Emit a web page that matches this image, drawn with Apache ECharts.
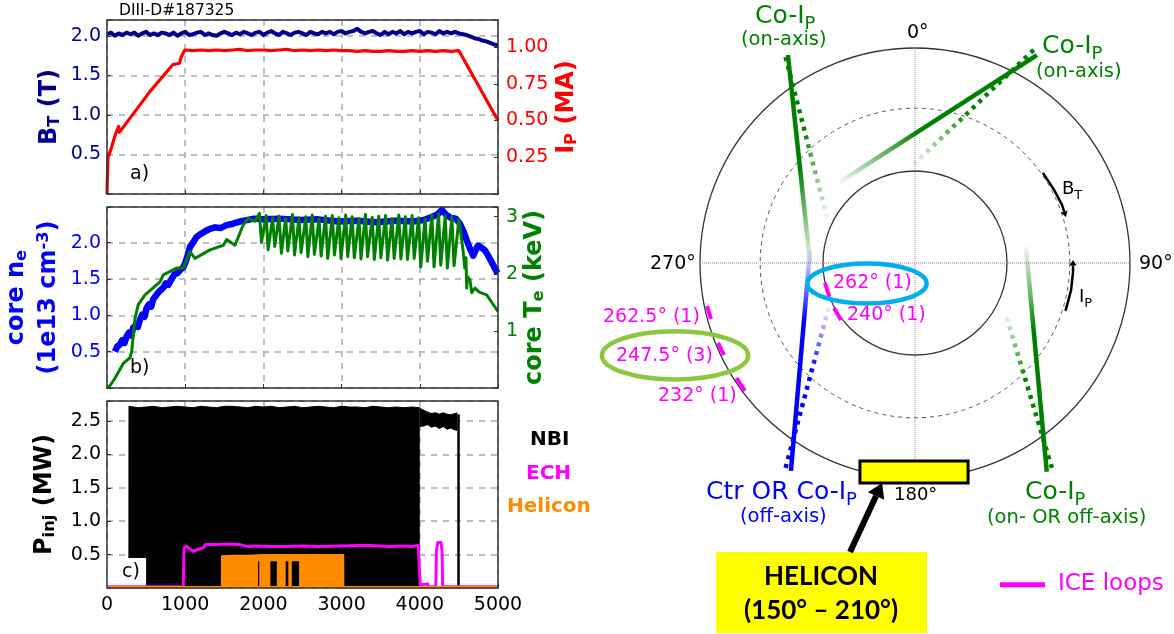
<!DOCTYPE html>
<html><head><meta charset="utf-8">
<script src="https://cdn.jsdelivr.net/npm/echarts@6/dist/echarts.min.js"></script>
<style>html,body{margin:0;padding:0;background:#fff}#c{width:1174px;height:634px}</style>
</head><body><div id="c"></div>
<script>
// ---------- panel a ----------
const btStep = 50;
const btValue = [2.02,2.04,2.00,2.03,2.01,2.04,2.02,2.04,2.00,2.03,2.05,2.01,2.03,2.01,2.04,2.03,2.01,2.04,2.00,2.03,
 2.05,2.01,2.02,2.04,2.05,2.01,2.03,2.01,2.00,2.03,2.05,2.03,2.01,2.04,2.02,2.05,2.03,2.01,2.04,2.05,
 2.01,2.04,2.06,2.03,2.01,2.05,2.03,2.01,2.04,2.05,2.03,2.01,2.05,2.03,2.02,2.05,2.03,2.05,2.02,2.05,
 2.06,2.03,2.05,2.06,2.09,2.05,2.03,2.05,2.06,2.03,2.01,2.05,2.02,2.05,2.03,2.06,2.02,2.05,2.03,2.05,
 2.06,2.02,2.05,2.04,2.02,2.06,2.03,2.05,2.03,2.05,2.03,2.02,2.01,1.99,1.97,1.96,1.94,1.93,1.91,1.89,1.88];
const ipTime = [0,8,14,48,110,149,159,216,553,841,928,947,995,1100,1200,1300,1400,1500,1600,1700,1800,1900,2000,2100,2200,2300,2400,2500,2600,2700,2800,2900,3000,3100,3200,3300,3400,3500,3600,3700,3800,3900,4000,4100,4200,4300,4400,4500,5000];
const ipValue = [0,.18,.25,.30,.41,.46,.42,.46,.70,.88,.89,.93,.98,.975,.98,.975,.98,.975,.98,.985,.975,.98,.98,.975,.98,.985,.975,.98,.975,.98,.975,.98,.975,.975,.97,.975,.97,.97,.975,.97,.97,.975,.97,.975,.97,.975,.97,.975,.50];
// ---------- panel b ----------
const neTime = [102,130,166,195,225,251,280,310,336,365,395,422,450,480,507,535,565,590,614,645,680,720,750,785,827,860,900,940,976,1000,1030,1061,1100,1147,1200,1260,1317,1380,1450,1530,1610,1700,1786,1880,1995,2200,2476,2700,2957,3200,3437,3700,3918,4050,4170,4230,4280,4340,4400,4460,4514,4560,4600,4640,4683,4715,4745,4790,4835,4880,4930,4983,5000];
const neValue = [.50,.57,.60,.66,.62,.71,.76,.72,.83,.86,.84,.94,1.01,.98,1.10,1.15,1.12,1.22,1.20,1.30,1.34,1.38,1.44,1.42,1.50,1.56,1.58,1.63,1.66,1.72,1.82,1.94,2.00,2.08,2.12,2.16,2.19,2.21,2.20,2.24,2.26,2.29,2.31,2.33,2.32,2.33,2.31,2.32,2.29,2.30,2.28,2.30,2.29,2.31,2.36,2.39,2.45,2.38,2.34,2.33,2.26,2.15,2.03,1.92,1.82,1.90,1.96,1.93,1.89,1.81,1.71,1.60,1.58];
const teRampTime = [17,102,208,294,316,358,400,486,678,720,890,976,1061,1125,1317,1488,1530,1637,1743,1807,1892,1950];
const teRampValue = [0,.17,.43,.53,.64,1.22,1.46,1.63,1.86,1.98,2.10,2.10,2.39,2.27,2.42,2.50,2.60,2.50,2.86,2.97,2.92,3.06];
const teSawTime = [1975,2035,2060,2118,2145,2200,2230,2285,2312,2372,2398,2455,2482,2542,2568,2625,2652,2712,2738,2795,2822,2882,2908,2965,2992,3052,3078,3135,3162,3222,3248,3305,3332,3392,3418,3475,3502,3562,3588,3645,3672,3732,3758,3815,3842,3902,3928,3985,4012,4068,4098,4155,4182,4240,4268,4325,4352,4410,4438,4500];
const teSawValue = [2.55,3.02,2.42,2.98,2.48,3.01,2.36,2.97,2.40,3.04,2.33,2.98,2.37,3.00,2.30,3.03,2.34,2.96,2.31,3.01,2.27,3.02,2.33,2.98,2.27,3.03,2.30,3.00,2.28,2.97,2.26,3.04,2.30,2.99,2.25,3.01,2.28,3.02,2.24,2.97,2.27,3.03,2.26,3.00,2.25,3.02,2.27,2.98,2.12,2.96,2.22,3.03,2.12,3.05,2.15,3.02,2.10,3.00,2.14,2.96];
const teTailTime = [4523,4555,4575,4590,4600,4610,4642,4664,4706,4760,4855,4930,5000];
const teTailValue = [2.72,2.39,2.10,2.28,1.75,1.95,1.89,1.67,1.75,1.68,1.63,1.48,1.34];
// ---------- panel c ----------
const nbiTime = [280,281,400,500,600,700,800,900,1000,1100,1200,1300,1400,1500,1600,1700,1800,1900,2000,2100,2200,2300,2400,2500,2600,2700,2800,2900,3000,3100,3200,3300,3400,3500,3600,3700,3800,3900,4000];
const nbiValue = [0,2.72,2.70,2.71,2.72,2.70,2.71,2.72,2.71,2.70,2.72,2.71,2.70,2.72,2.72,2.71,2.70,2.72,2.71,2.72,2.70,2.71,2.72,2.70,2.71,2.72,2.71,2.70,2.72,2.71,2.71,2.70,2.72,2.71,2.70,2.71,2.70,2.71,2.70];
const nbiBandTime = [4000,4050,4100,4150,4200,4250,4300,4350,4400,4450,4480];
const nbiBandHigh = [2.70,2.67,2.64,2.62,2.63,2.61,2.63,2.61,2.60,2.62,2.63];
const nbiBandLow = [2.41,2.42,2.44,2.40,2.42,2.38,2.41,2.37,2.39,2.36,2.35];
const nbiFinalTime = [4495,4495];
const nbiFinalValue = [0,2.6];
const echTime = [0,975,985,1010,1060,1100,1170,1230,1260,1400,1550,1700,1800,1900,2100,2300,2500,2700,3000,3300,3600,3800,3900,3980,3995,4005,4100,4102,4205,4212,4230,4270,4285,4292,5000];
const echValue = [.02,.02,.60,.63,.58,.55,.58,.60,.65,.65,.66,.65,.62,.63,.62,.62,.63,.62,.63,.64,.62,.63,.62,.64,.64,.05,.06,.02,.02,.55,.68,.68,.55,.02,.02];
const helTime = [0,1472,1473,1600,1800,2000,2200,2400,2600,2800,3018,3019,5000];
const helValue = [.01,.01,.47,.48,.48,.49,.49,.49,.49,.49,.49,.01,.01];
const helGapStart = [1932,2089,2285,2363];
const helGapEnd = [1947,2172,2319,2456];
const helGapTop = [.40,.40,.40,.40];
// ---------- geometry (outer vessel radius = 1) ----------
const circleRadii = [.428,.72,1];
const circleDashed = [0,1,0];
const beamName = ['A','A dotted','B','B dotted','C','C dotted','D','D dotted'];
const beamX0 = [-.591,-.602,.567,.552,-.577,-.602,.613,.637];
const beamY0 = [.967,.958,.967,.991,-.967,-.953,-.971,-.953];
const beamX1 = [-.488,-.409,-.349,-.005,-.488,-.401,.516,.419];
const beamY1 = [0,.209,.377,.46,.06,-.205,.074,-.228];
const beamFade = [.54,.45,.60,.53,.68,.60,.63,.56];
const beamColor = ['g','g','g','g','b','b','g','g'];
const iceX0 = [-.419,-.377,-.967,-.916,-.83];
const iceY0 = [-.093,-.209,-.2,-.372,-.535];
const iceX1 = [-.398,-.344,-.949,-.888,-.791];
const iceY1 = [-.158,-.265,-.26,-.428,-.595];
const ellipseCx = [-.223,-1.116];
const ellipseCy = [-.095,-.43];
const ellipseRx = [.277,.34];
const ellipseRy = [.093,.112];
const ellipseColor = ['#00aeef','#8dc63f'];

const zip = (a,b)=>a.map((v,i)=>[v,b[i]]);
const chart = echarts.init(document.getElementById('c'),null,{renderer:'canvas'});
const FF = '"DejaVu Sans"';
const GREEN='#008000', BLUE='#0000ff', MAG='#ff00ff', RED='#ff0000', NAVY='#00008b', ORANGE='#ff8c00';
const GRIDLINE = {show:true,lineStyle:{color:'#aaaaaa',type:[6,6],width:1.5}};
const xAx = (g,labels)=>({type:'value',gridIndex:g,min:0,max:5000,interval:1000,
  axisLine:{show:false},axisTick:{show:true,inside:true,length:4,lineStyle:{color:'#333'}},splitLine:GRIDLINE,
  axisLabel:{show:labels,fontFamily:FF,fontSize:19,color:'#000',margin:8,hideOverlap:false,showMinLabel:true,showMaxLabel:true,formatter:v=>String(v)}});
const fmt = (d,iv)=>v=>(v===0||Math.abs(v/iv-Math.round(v/iv))>1e-6)?'':v.toFixed(d);
const yAx = (g,max,iv,dec,color,pos,name,nameGap,rich,split)=>({type:'value',gridIndex:g,min:0,max,interval:iv,position:pos,
  axisLine:{show:false},axisTick:{show:true,inside:true,length:4,lineStyle:{color:'#333'}},
  splitLine:split?GRIDLINE:{show:false},
  axisLabel:{fontFamily:FF,fontSize:19,color,margin:pos==='left'?6:8,formatter:fmt(dec,iv)},
  name,nameLocation:'middle',nameGap,nameRotate:90,nameTextStyle:{rich}});
const bold = (c,s=24)=>({a:{fontFamily:FF,fontWeight:'bold',fontSize:s,color:c,lineHeight:32},
  s:{fontFamily:FF,fontWeight:'bold',fontSize:s*.68,color:c,lineHeight:32,padding:[9,0,0,0]},
  u:{fontFamily:FF,fontWeight:'bold',fontSize:s*.68,color:c,lineHeight:32,padding:[0,0,10,0]}});
const line = (name,x,y,data,color,width,z,extra={})=>Object.assign({type:'line',name,xAxisIndex:x,yAxisIndex:y,data,
  symbol:'none',lineStyle:{color,width,join:'round'},itemStyle:{color},z,silent:true},extra);

const diagram = (name,arr,renderItem,z)=>({type:'custom',name,coordinateSystem:'cartesian2d',xAxisIndex:3,yAxisIndex:5,
  data:arr.map((_,i)=>[i]),renderItem,z,silent:true,clip:false});
const seg = (api,x0,y0,x1,y1)=>{const a=api.coord([x0,y0]),b=api.coord([x1,y1]);return {x1:a[0],y1:a[1],x2:b[0],y2:b[1]};};
const arrow = (api,pts,width,head)=>{
  const p=pts.map(q=>api.coord(q)),n=p.length,a=p[n-2],b=p[n-1];
  const l=Math.hypot(b[0]-a[0],b[1]-a[1]),ux=(b[0]-a[0])/l,uy=(b[1]-a[1])/l;
  const bx=b[0]-ux*head*1.6,by=b[1]-uy*head*1.6;
  const body=p.slice(0,n-1).concat([[bx,by]]);
  return {type:'group',children:[
    {type:'polyline',shape:{points:body},style:{stroke:'#000',lineWidth:width,fill:null}},
    {type:'polygon',shape:{points:[b,[bx-uy*head,by+ux*head],[bx+uy*head,by-ux*head]]},style:{fill:'#000'}}]};
};
const btArrow = [[.595,.419],[.647,.340],[.684,.270],[.702,.214]];
const ipArrow = [[.700,-.223],[.726,-.126],[.735,-.042],[.735,.014]];
const helArrow = [[-.302,-1.344],[-.153,-1.023]];

const series = [
  line('BT',0,0,btValue.map((v,i)=>[i*btStep,v]),NAVY,4,3),
  line('Ip',0,1,zip(ipTime,ipValue),RED,3.2,4),
  line('ne',1,2,zip(neTime,neValue),BLUE,6.5,3),
  line('Te',1,3,zip(teRampTime,teRampValue).concat(zip(teSawTime,teSawValue),zip(teTailTime,teTailValue)),GREEN,3,4),
  line('NBI',2,4,zip(nbiTime,nbiValue),'#000',1,3,{areaStyle:{color:'#000',opacity:1}}),
  {type:'custom',name:'NBI late',xAxisIndex:2,yAxisIndex:4,data:[[0]],z:3,silent:true,renderItem:(p,api)=>{
     const up=nbiBandTime.map((t,i)=>api.coord([t,nbiBandHigh[i]]));
     const lo=nbiBandTime.map((t,i)=>api.coord([t,nbiBandLow[i]])).reverse();
     return {type:'polygon',shape:{points:up.concat(lo)},style:{fill:'#000'}};}},
  line('NBI final',2,4,zip(nbiFinalTime,nbiFinalValue),'#000',2.5,3),
  {type:'custom',name:'c box',xAxisIndex:2,yAxisIndex:4,data:[[0,500,0,.45]],z:5,silent:true,renderItem:(p,api)=>{
     const a=api.coord([api.value(0),api.value(3)]),b=api.coord([api.value(1),api.value(2)]);
     return {type:'rect',shape:{x:a[0],y:a[1],width:b[0]-a[0],height:b[1]-a[1]},style:{fill:'#fff'}};}},
  line('ECH',2,4,zip(echTime,echValue),MAG,3,6),
  line('Helicon',2,4,zip(helTime,helValue),ORANGE,2.5,7,{areaStyle:{color:ORANGE,opacity:1}}),
  {type:'custom',name:'Helicon gaps',xAxisIndex:2,yAxisIndex:4,data:helGapStart.map((s,i)=>[s,helGapEnd[i],helGapTop[i]]),z:8,silent:true,renderItem:(p,api)=>{
     const a=api.coord([api.value(0),api.value(2)]),b=api.coord([api.value(1),0.03]);
     return {type:'rect',shape:{x:a[0],y:a[1],width:b[0]-a[0],height:b[1]-a[1]},style:{fill:'#000'}};}},

  diagram('circles',circleRadii,(p,api)=>{
     const c=api.coord([0,0]),r=api.size([circleRadii[p.dataIndex],0])[0];
     return {type:'circle',shape:{cx:c[0],cy:c[1],r},style:{fill:null,stroke:circleDashed[p.dataIndex]?'#555':'#333',lineWidth:circleDashed[p.dataIndex]?1:1.3,lineDash:circleDashed[p.dataIndex]?[4,4]:null}};},2),
  diagram('cross',[0],(p,api)=>({type:'group',children:[
     {type:'line',shape:seg(api,-1,0,1,0),style:{stroke:'#888',lineWidth:1,lineDash:[1,1]}},
     {type:'line',shape:seg(api,0,1,0,-.93),style:{stroke:'#888',lineWidth:1,lineDash:[1,1]}}]}),2),
  diagram('beams',beamName,(p,api)=>{
     const i=p.dataIndex,s=seg(api,beamX0[i],beamY0[i],beamX1[i],beamY1[i]);
     const base=beamColor[i]==='g'?'0,128,0':'0,0,255';
     const g=new echarts.graphic.LinearGradient(s.x1,s.y1,s.x2,s.y2,[
       {offset:0,color:`rgba(${base},1)`},{offset:beamFade[i],color:`rgba(${base},1)`},{offset:1,color:`rgba(${base},.06)`}],true);
     return {type:'line',shape:s,style:{stroke:g,lineWidth:4.5,lineDash:i%2?[4,5]:null}};},3),
  diagram('ICE',iceX0,(p,api)=>{const i=p.dataIndex;
     return {type:'line',shape:seg(api,iceX0[i],iceY0[i],iceX1[i],iceY1[i]),style:{stroke:MAG,lineWidth:4}};},4),
  diagram('ellipses',ellipseCx,(p,api)=>{const i=p.dataIndex,c=api.coord([ellipseCx[i],ellipseCy[i]]);
     return {type:'ellipse',shape:{cx:c[0],cy:c[1],rx:api.size([ellipseRx[i],0])[0],ry:api.size([0,ellipseRy[i]])[1]},style:{fill:null,stroke:ellipseColor[i],lineWidth:4.5}};},5),
  diagram('antenna',[0],(p,api)=>{const a=api.coord([-.256,-.921]),b=api.coord([.247,-1.023]);
     return {type:'rect',shape:{x:a[0],y:a[1],width:b[0]-a[0],height:b[1]-a[1]},style:{fill:'#ffff00',stroke:'#000',lineWidth:3}};},6),
  diagram('helicon box',[0],(p,api)=>{const a=api.coord([-.926,-1.344]),b=api.coord([.056,-1.721]);
     return {type:'rect',shape:{x:a[0],y:a[1],width:b[0]-a[0],height:b[1]-a[1]},style:{fill:'#ffff00'}};},6),
  diagram('BT arrow',[0],(p,api)=>arrow(api,btArrow,2.5,3.5),6),
  diagram('Ip arrow',[0],(p,api)=>arrow(api,ipArrow,2.5,3.5),6),
  diagram('Helicon arrow',[0],(p,api)=>arrow(api,helArrow,6,9),6),
  diagram('ICE legend',[0],(p,api)=>({type:'line',shape:seg(api,.395,-1.497,.605,-1.497),style:{stroke:MAG,lineWidth:5}}),6),
];

const txt = (text,x,y,size,color,extra={})=>({type:'text',x,y,z:100,silent:true,
  style:Object.assign({text,font:`${extra.weight||'normal'} ${size}px ${extra.family||FF}`,fill:color,align:extra.align||'left',verticalAlign:'middle'},extra.style||{})});
const subText = (text,sub,x,y,size,color)=>({type:'text',x,y,z:100,silent:true,style:{text:`{m|${text}}{s|${sub}}`,align:'left',verticalAlign:'middle',
   rich:{m:{fontFamily:FF,fontSize:size,fill:color,color,lineHeight:size+14},s:{fontFamily:FF,fontSize:size*.72,fill:color,color,lineHeight:size+14,padding:[size*.7,0,0,0]}}}});

const graphic = [
  txt('DIII-D#187325',119,11,15.5,'#000'),
  txt('a)',130,174,19,'#000'), txt('b)',130,368,19,'#000'), txt('c)',122,572,19,'#000'),
  txt('NBI',530,440,20,'#000',{weight:'bold'}), txt('ECH',526,474,20,MAG,{weight:'bold'}), txt('Helicon',507,507,20,ORANGE,{weight:'bold'}),
  subText('Co-I','P',755,16,25,GREEN), txt('(on-axis)',741,40,19.5,GREEN),
  subText('Co-I','P',1042,46,25,GREEN), txt('(on-axis)',1036,72,19.5,GREEN),
  subText('Ctr OR Co-I','P',706,492,25,BLUE), txt('(off-axis)',740,517,19.5,BLUE),
  subText('Co-I','P',1025,492,25,GREEN), txt('(on- OR off-axis)',987,518,19.5,GREEN),
  txt('0°',907,33,19,'#000'), txt('270°',650,264,19,'#000'), txt('90°',1139,264,19,'#000'), txt('180°',894,495,18,'#000'),
  subText('B','T',1062,189,18,'#000'), subText('I','P',1079,297,18,'#000'),
  txt('262° (1)',833,283,19,MAG), txt('240° (1)',847,315,19,MAG), txt('262.5° (1)',603,317,19,MAG),
  txt('247.5° (3)',616,356,19,MAG), txt('232° (1)',658,396,19,MAG), txt('ICE loops',1058,584,23,MAG),
  txt('HELICON',821,577,26,'#000',{weight:'bold',align:'center',family:'Lato'}),
  txt('(150° – 210°)',821,611,26,'#000',{weight:'bold',align:'center',family:'Lato'}),
];

const panel = o=>Object.assign({left:107,width:391,show:true,borderColor:'#333',borderWidth:1.5,z:10,containLabel:false,outerBoundsMode:'none'},o);
chart.setOption({
  animation:false,backgroundColor:'#fff',
  grid:[panel({top:20,height:174}),panel({top:207,height:181}),panel({top:401,height:187}),
    {left:590,width:584,top:0,height:634,show:false,outerBoundsMode:'none'}],
  xAxis:[xAx(0,false),xAx(1,false),xAx(2,true),
    {type:'value',gridIndex:3,min:-1.5116,max:1.2047,show:false}],
  yAxis:[
    yAx(0,2.2,.5,1,NAVY,'left','{a|B}{s|T}{a| (T)}',41,bold(NAVY),true),
    yAx(0,1.184,.25,2,RED,'right','{a|I}{s|P}{a| (MA)}',53,bold(RED),false),
    yAx(1,2.49,.5,1,BLUE,'left','{a|core n}{s|e}\n{a|(1e13 cm}{u|-3}{a|)}',42,bold(BLUE),true),
    yAx(1,3.17,1,0,GREEN,'right','{a|core T}{s|e}{a| (keV)}',19,bold(GREEN),false),
    yAx(2,2.8,.5,1,'#000','left','{a|P}{s|inj}{a| (MW)}',46,bold('#000'),true),
    {type:'value',gridIndex:3,min:-1.7256,max:1.2233,show:false}],
  series,graphic:{elements:graphic}
});
</script></body></html>
